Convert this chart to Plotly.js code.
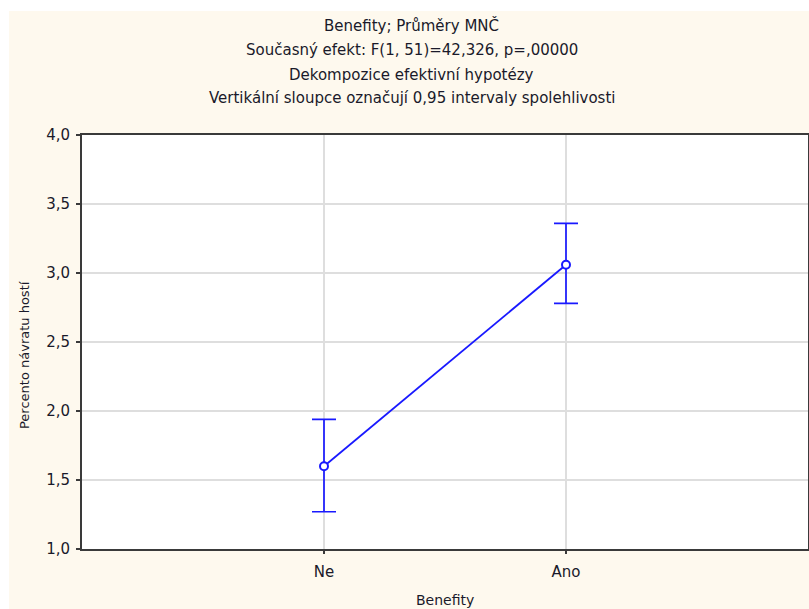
<!DOCTYPE html>
<html>
<head>
<meta charset="utf-8">
<script src="https://cdn.plot.ly/plotly-3.0.1.min.js"></script>
<style>html,body{margin:0;padding:0;background:#fff;}#chart{width:809px;height:609px;}</style>
</head>
<body>
<div id="chart"></div>
<script>
// Data
const categories = ["Ne", "Ano"];
const categoryPos = [0, 1];
const means = [1.60, 3.06];
const upperCI = [1.94, 3.36];
const lowerCI = [1.27, 2.78];
const yTicks = [1.0, 1.5, 2.0, 2.5, 3.0, 3.5, 4.0];
const titleLines = [
  "Benefity; Průměry MNČ",
  "Současný efekt: F(1, 51)=42,326, p=,00000",
  "Dekompozice efektivní hypotézy",
  "Vertikální sloupce označují 0,95 intervaly spolehlivosti"
];
const xTitle = "Benefity";
const yTitle = "Percento návratu hostí";

const blue = "rgb(25,25,255)";
const FONT = "DejaVu Sans, Liberation Sans, Arial, sans-serif";
const textColor = "#1a1a2a";

const errPlus = upperCI.map((u, i) => u - means[i]);
const errMinus = lowerCI.map((l, i) => means[i] - l);

const trace = {
  x: categoryPos,
  y: means,
  type: "scatter",
  mode: "lines+markers",
  line: {color: blue, width: 1.8},
  marker: {symbol: "circle", size: 8, color: "white", line: {color: blue, width: 2}},
  error_y: {type: "data", array: errPlus, arrayminus: errMinus, visible: true,
            color: blue, thickness: 1.7, width: 12},
  hoverinfo: "skip",
  showlegend: false
};

const titleY = [1.2633, 1.2053, 1.1461, 1.0882];
const annotations = titleLines.map((t, i) => ({
  text: t, xref: "paper", yref: "paper", x: 0.4545, y: titleY[i],
  xanchor: "center", yanchor: "middle", showarrow: false,
  font: {family: FONT, size: 15, color: textColor}
}));
annotations.push({
  text: xTitle, xref: "paper", yref: "paper", x: 0.5, y: -0.123,
  xanchor: "center", yanchor: "middle", showarrow: false,
  font: {family: FONT, size: 14, color: textColor}
});
annotations.push({
  text: yTitle, xref: "paper", yref: "paper", x: -0.0785, y: 0.4686,
  xanchor: "center", yanchor: "middle", showarrow: false, textangle: -90,
  font: {family: FONT, size: 13, color: textColor}
});

const layout = {
  width: 809, height: 609,
  margin: {l: 82, r: 1, t: 135, b: 60, pad: 0},
  paper_bgcolor: "#ffffff",
  plot_bgcolor: "rgba(0,0,0,0)",
  separators: ", ",
  font: {family: FONT, size: 15, color: textColor},
  shapes: [
    {type: "rect", xref: "paper", yref: "paper", layer: "below",
     x0: -0.1006, x1: 1.01, y0: -0.2, y1: 1.2995,
     fillcolor: "#fef9ee", line: {width: 0}},
    {type: "rect", xref: "paper", yref: "paper", layer: "below",
     x0: 0, x1: 1, y0: 0, y1: 1,
     fillcolor: "#ffffff", line: {width: 0}}
  ],
  xaxis: {
    range: [-1, 2], tickmode: "array", tickvals: categoryPos, ticktext: categories,
    showgrid: true, gridcolor: "#dedede", gridwidth: 1.5, zeroline: false,
    showline: true, linecolor: "#3a3a3a", linewidth: 2, mirror: true,
    ticks: "outside", ticklen: 3, tickcolor: "#3a3a3a", tickwidth: 1.5,
    ticklabelstandoff: 5,
    tickfont: {family: FONT, size: 15, color: textColor}, fixedrange: true
  },
  yaxis: {
    range: [1, 4], tickmode: "array", tickvals: yTicks,
    ticktext: yTicks.map(v => v.toFixed(1).replace(".", ",")),
    showgrid: true, gridcolor: "#dedede", gridwidth: 1.5, zeroline: false,
    showline: true, linecolor: "#3a3a3a", linewidth: 2, mirror: "ticks",
    ticks: "outside", ticklen: 4, tickcolor: "#3a3a3a", tickwidth: 1.5,
    ticklabelstandoff: 3,
    tickfont: {family: FONT, size: 15, color: textColor}, fixedrange: true
  },
  annotations: annotations
};

Plotly.newPlot("chart", [trace], layout, {staticPlot: true, displayModeBar: false});
</script>
</body>
</html>
